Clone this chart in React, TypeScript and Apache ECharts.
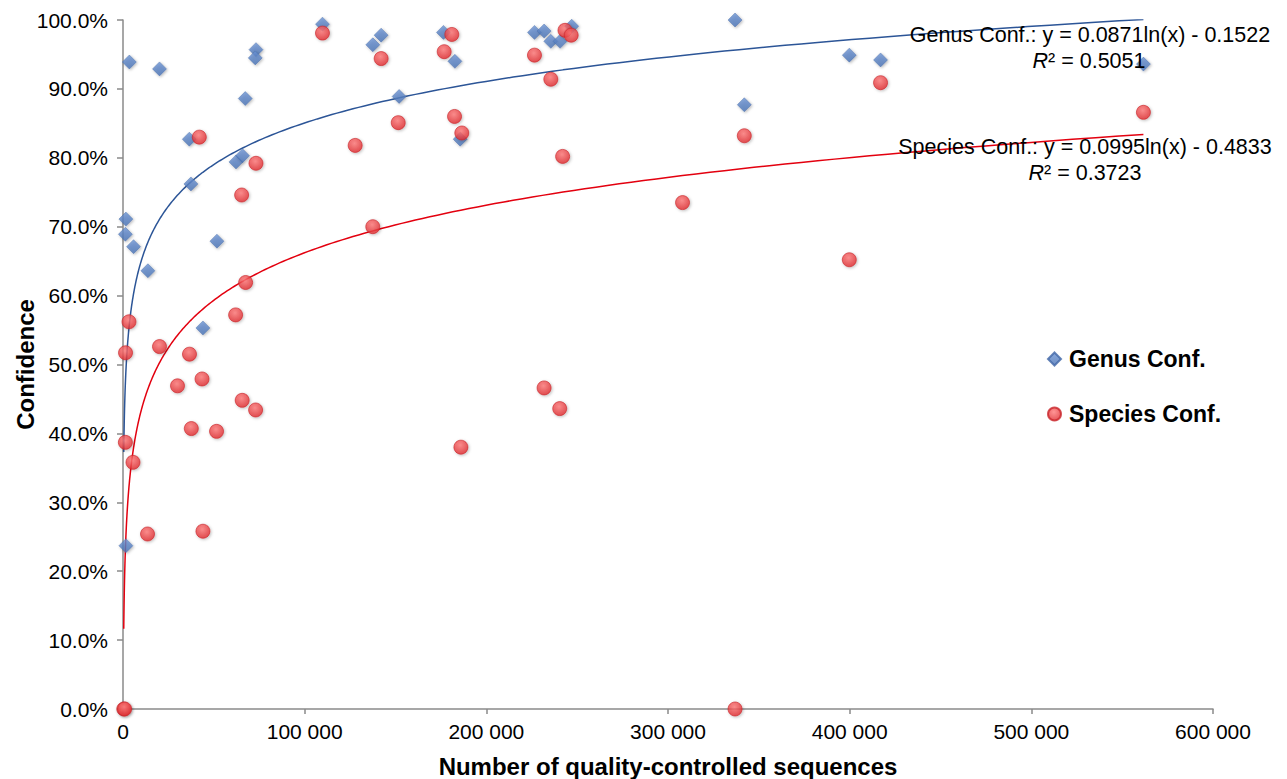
import React, { useEffect, useRef } from "react";
import * as echarts from "echarts";

// [sequences, confidence %]
const genusPoints: [number, number][] = [
  [3500, 93.9], [20100, 92.9], [109800, 99.4], [137500, 96.4], [142100, 97.8],
  [73200, 95.7], [72800, 94.5], [67300, 88.6], [152000, 88.9], [36500, 82.7],
  [62200, 79.4], [65800, 80.3], [37400, 76.2], [1600, 71.1], [1300, 68.9],
  [5800, 67.1], [51700, 67.9], [13700, 63.6], [44000, 55.3], [1600, 23.7],
  [176400, 98.2], [182700, 94.0], [185600, 82.7], [226500, 98.2], [231800, 98.4],
  [235500, 96.9], [240600, 96.9], [247000, 99.1], [336900, 100.0], [399800, 94.9],
  [417000, 94.2], [342000, 87.7], [561700, 93.6],
];

const speciesPoints: [number, number][] = [
  [109800, 98.1], [142100, 94.4], [151500, 85.1], [127800, 81.8], [42000, 83.0],
  [73200, 79.2], [65300, 74.6], [137500, 70.0], [67500, 61.9], [3300, 56.2],
  [1400, 51.7], [20100, 52.6], [36600, 51.5], [62000, 57.2], [30000, 46.9],
  [43500, 47.9], [65600, 44.8], [73000, 43.4], [37600, 40.7], [51500, 40.3],
  [1300, 38.7], [5500, 35.8], [13500, 25.4], [44000, 25.8], [415, 0.0], [900, 0.0],
  [181000, 97.9], [176800, 95.4], [182500, 86.0], [186500, 83.6], [226500, 94.9],
  [235500, 91.4], [243300, 98.5], [246700, 97.8], [242000, 80.2], [231800, 46.6],
  [240400, 43.6], [186000, 38.0], [417000, 90.9], [342000, 83.2], [308000, 73.5],
  [399800, 65.2], [561700, 86.6], [336900, 0.0],
];

// Logarithmic trendlines as printed on the chart: y = a ln(x) + b
const genusTrend = { a: 0.0871, b: -0.1522, r2: "0.5051" };
const speciesTrend = { a: 0.0995, b: -0.4833, r2: "0.3723" };

const xTicks = [0, 100000, 200000, 300000, 400000, 500000, 600000];
const yTicks = [0, 0.1, 0.2, 0.3, 0.4, 0.5, 0.6, 0.7, 0.8, 0.9, 1.0];

const FONT = "'Liberation Sans', Arial, Helvetica, sans-serif";

function trendData(pts: [number, number][], t: { a: number; b: number }) {
  const xs = pts.map((p) => p[0]);
  const lo = Math.min(...xs);
  const hi = Math.max(...xs);
  const out: [number, number][] = [];
  const n = 300;
  for (let i = 0; i <= n; i++) {
    const x = Math.exp(Math.log(lo) + ((Math.log(hi) - Math.log(lo)) * i) / n);
    out.push([x, t.a * Math.log(x) + t.b]);
  }
  return out;
}

export default function App() {
  const ref = useRef<HTMLDivElement>(null);
  useEffect(() => {
    if (!ref.current) return;
    const chart = echarts.init(ref.current, undefined, { renderer: "svg" });
    const redFill = new echarts.graphic.RadialGradient(0.45, 0.35, 0.65, [
      { offset: 0, color: "#ff7a7a" },
      { offset: 1, color: "#e02c30" },
    ]);
    const blueFill = new echarts.graphic.LinearGradient(0, 0, 0, 1, [
      { offset: 0, color: "#6b93d3" },
      { offset: 1, color: "#4a73b5" },
    ]);
    const eqStyle = (text: string, x: number, y: number) => ({
      type: "text",
      x,
      y,
      style: {
        text,
        fontFamily: FONT,
        fontSize: 21.5,
        fill: "#000",
        align: "center",
        verticalAlign: "middle",
        rich: {
          i: { fontStyle: "italic", fontFamily: FONT, fontSize: 21.5, fill: "#000" },
          n: { fontFamily: FONT, fontSize: 21.5, fill: "#000" },
        },
      },
      z: 10,
    });
    chart.setOption({
      animation: false,
      backgroundColor: "#fff",
      grid: {
        left: 123,
        right: 74,
        top: 20,
        bottom: 70,
        containLabel: false,
        outerBoundsMode: "none",
      },
      xAxis: {
        type: "value",
        min: 0,
        max: 600000,
        interval: 100000,
        name: "Number of quality-controlled sequences",
        nameLocation: "middle",
        nameGap: 45,
        nameMoveOverlap: false,
        nameTextStyle: { fontFamily: FONT, fontSize: 24, fontWeight: "bold", color: "#000" },
        axisLine: { show: true, lineStyle: { color: "#8a8a8a", width: 1.5 } },
        axisTick: { show: true, length: 5, lineStyle: { color: "#8a8a8a", width: 1.5 } },
        splitLine: { show: false },
        axisLabel: {
          margin: 12,
          fontFamily: FONT,
          fontSize: 21,
          color: "#000",
          formatter: (v: number) =>
            xTicks.includes(v) ? String(v).replace(/\B(?=(\d{3})+(?!\d))/g, " ") : "",
        },
      },
      yAxis: {
        type: "value",
        min: 0,
        max: 1,
        interval: 0.1,
        name: "Confidence",
        nameLocation: "middle",
        nameGap: 86,
        nameMoveOverlap: false,
        nameRotate: 90,
        nameTextStyle: { fontFamily: FONT, fontSize: 24, fontWeight: "bold", color: "#000" },
        axisLine: { show: true, lineStyle: { color: "#8a8a8a", width: 1.5 } },
        axisTick: { show: true, length: 6, lineStyle: { color: "#8a8a8a", width: 1.5 } },
        splitLine: { show: false },
        axisLabel: {
          margin: 15,
          fontFamily: FONT,
          fontSize: 21,
          color: "#000",
          formatter: (v: number) => {
            const t = yTicks.find((k) => Math.abs(k - v) < 1e-9);
            return t === undefined ? "" : (t * 100).toFixed(1) + "%";
          },
        },
      },
      legend: {
        data: [
          { name: "Genus Conf.", icon: "diamond" },
          { name: "Species Conf.", icon: "circle" },
        ],
        orient: "vertical",
        left: 1042,
        top: 342,
        itemWidth: 13,
        itemHeight: 13,
        itemGap: 31,
        selectedMode: false,
        textStyle: {
          fontFamily: FONT,
          fontSize: 23,
          fontWeight: "bold",
          color: "#000",
          lineHeight: 24,
          padding: [0, 0, 0, 3],
        },
      },
      series: [
        {
          name: "Genus trend",
          type: "line",
          data: trendData(genusPoints.concat(speciesPoints.filter((p) => p[1] === 0 && p[0] < 1000)), genusTrend),
          showSymbol: false,
          silent: true,
          lineStyle: { color: "#2c5597", width: 1.5 },
          z: 1,
        },
        {
          name: "Species trend",
          type: "line",
          data: trendData(speciesPoints, speciesTrend),
          showSymbol: false,
          silent: true,
          lineStyle: { color: "#e3000f", width: 1.5 },
          z: 1,
        },
        {
          name: "Genus Conf.",
          type: "scatter",
          symbol: "diamond",
          symbolSize: 14,
          data: genusPoints.map((p) => [p[0], p[1] / 100]),
          itemStyle: {
            color: blueFill,
            borderColor: "#4167a6",
            borderWidth: 0.5,
            shadowBlur: 3,
            shadowColor: "rgba(0,0,0,0.35)",
            shadowOffsetX: 1,
            shadowOffsetY: 1,
          },
          z: 3,
        },
        {
          name: "Species Conf.",
          type: "scatter",
          symbol: "circle",
          symbolSize: 14,
          data: speciesPoints.map((p) => [p[0], p[1] / 100]),
          itemStyle: {
            color: redFill,
            borderColor: "#c8262b",
            borderWidth: 0.8,
            shadowBlur: 3,
            shadowColor: "rgba(0,0,0,0.3)",
            shadowOffsetX: 1,
            shadowOffsetY: 1,
          },
          z: 4,
        },
      ],
      graphic: [
        eqStyle(`Genus Conf.: y = ${genusTrend.a}ln(x) - ${Math.abs(genusTrend.b)}`, 1090, 35),
        eqStyle(`{i|R}{n|² = ${genusTrend.r2}}`, 1089, 61),
        eqStyle(`Species Conf.: y = ${speciesTrend.a}ln(x) - ${Math.abs(speciesTrend.b)}`, 1085, 147),
        eqStyle(`{i|R}{n|² = ${speciesTrend.r2}}`, 1085, 173),
      ],
    });
    return () => chart.dispose();
  }, []);
  return (
    <div
      ref={ref}
      style={{ position: "fixed", left: 0, top: 0, width: 1287, height: 779, background: "#fff" }}
    />
  );
}
